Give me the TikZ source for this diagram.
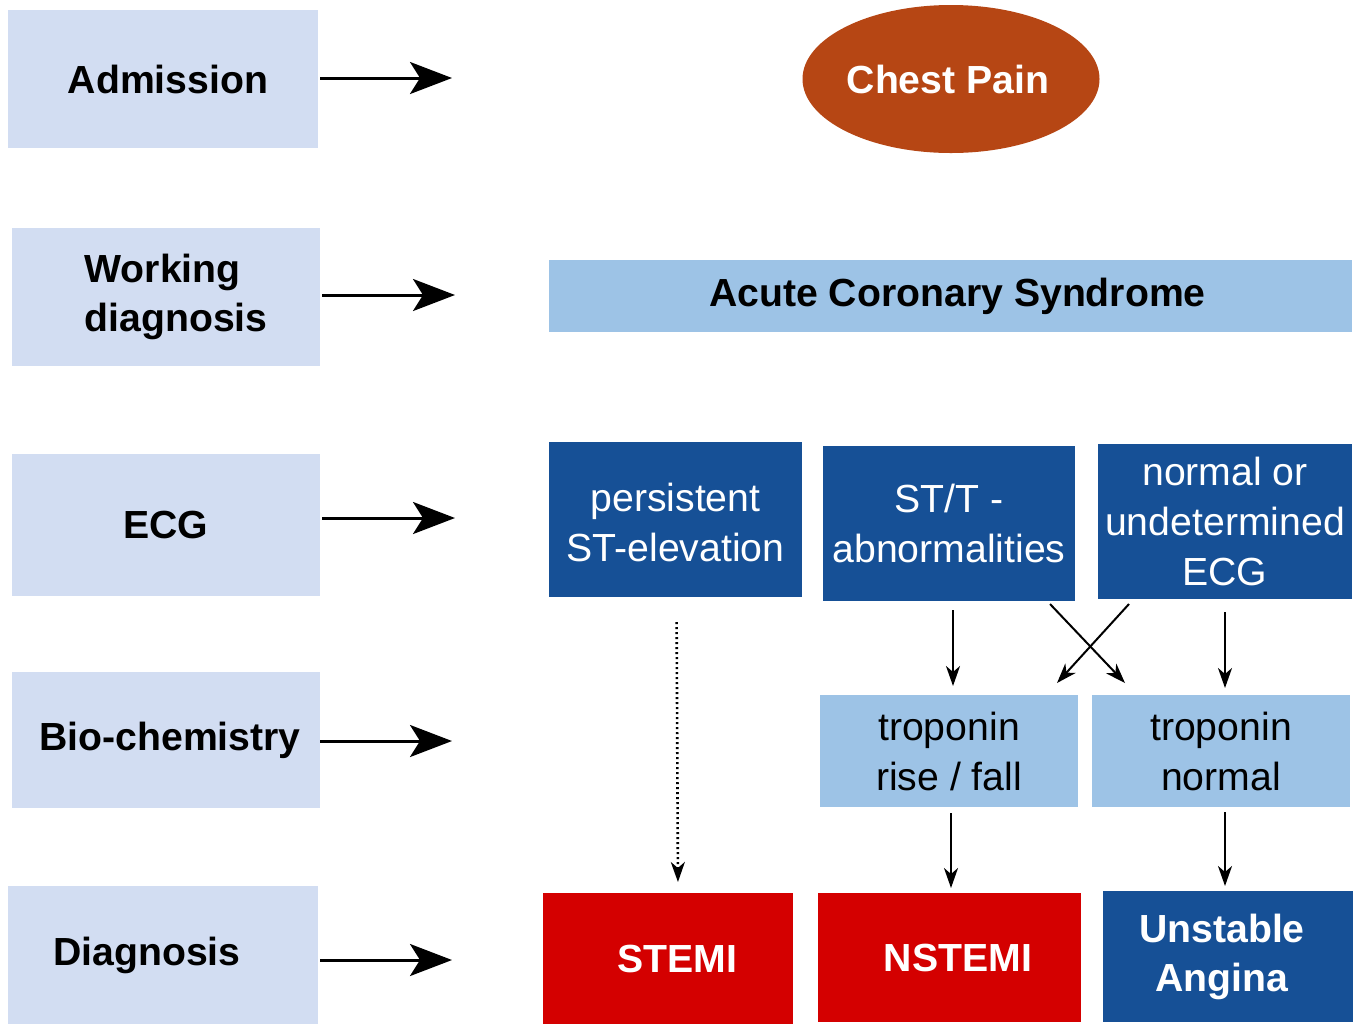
\documentclass[tikz,border=0pt]{standalone}
\usepackage{fontspec}
\setmainfont{Liberation Sans}
\usetikzlibrary{arrows.meta,shapes.geometric}
\definecolor{lav}{RGB}{210,221,242}
\definecolor{lblue}{RGB}{157,195,230}
\definecolor{dblue}{RGB}{22,80,150}
\definecolor{dred}{RGB}{212,0,0}
\definecolor{brn}{RGB}{182,70,20}
\begin{document}
\begin{tikzpicture}[x=0.5pt,y=-0.5pt,
  every node/.style={inner sep=0pt,outer sep=0pt,align=center,font=\fontsize{19.6pt}{25pt}\selectfont},
  stagebox/.style={fill=lav,font=\fontsize{19.6pt}{24.5pt}\selectfont\bfseries,text=black},
  lightbox/.style={fill=lblue,text=black},
  darkbox/.style={fill=dblue,text=white},
  redbox/.style={fill=dred,text=white,font=\fontsize{19.6pt}{24.5pt}\selectfont\bfseries},
  bigarrow/.style={line width=1.5pt,-{Stealth[length=21pt,width=16pt,inset=5pt]}},
  smallarrow/.style={line width=1pt,-{Stealth[length=10pt,width=7pt,inset=3pt]}},
]
\useasboundingbox (0,0) rectangle (1354,1024);
\fill[white] (0,0) rectangle (1354,1024);

% left column
\node[stagebox,minimum width=155pt,minimum height=69pt] (adm) at (163,79) {\hspace*{5pt}Admission};
\node[stagebox,minimum width=154pt,minimum height=69pt,align=left] (work) at (166,297) {\hspace*{10pt}Working\\ \hspace*{10pt}diagnosis};
\node[stagebox,minimum width=154pt,minimum height=71pt] (ecg) at (166,525) {ECG};
\node[stagebox,minimum width=154pt,minimum height=68pt] (bio) at (166,740) {\hspace*{4pt}Bio-chemistry};
\node[stagebox,minimum width=155pt,minimum height=69pt] (diag) at (163,955) {Diagnosis\hspace*{16pt}};

\coordinate (admE) at (452,78);
\coordinate (workE) at (455,295);
\coordinate (ecgE) at (455,518);
\coordinate (bioE) at (452,741);
\coordinate (diagE) at (452,960);
\draw[bigarrow] (adm.east |- admE) ++(2,0) -- (admE);
\draw[bigarrow] (work.east |- workE) ++(2,0) -- (workE);
\draw[bigarrow] (ecg.east |- ecgE) ++(2,0) -- (ecgE);
\draw[bigarrow] (bio.east |- bioE) -- (bioE);
\draw[bigarrow] (diag.east |- diagE) ++(2,0) -- (diagE);

% chest pain
\node[ellipse,fill=brn,text=white,minimum width=148.5pt,minimum height=74pt,font=\fontsize{19.6pt}{24pt}\selectfont\bfseries] (cp) at (951,79) {Chest Pain\hspace*{3pt}};

% ACS
\node[lightbox,minimum width=401.5pt,minimum height=36pt,font=\fontsize{19.6pt}{24pt}\selectfont\bfseries] (acs) at (950.5,296) {\hspace*{7pt}Acute Coronary Syndrome};

% ECG row
\node[darkbox,minimum width=126.5pt,minimum height=77.5pt] (pst) at (675.5,519.5) {\rule{0pt}{17pt}persistent\\ST-elevation};
\node[darkbox,minimum width=126pt,minimum height=77.5pt] (stt) at (949,523.5) {ST/T -\\abnormalities};
\node[darkbox,minimum width=127pt,minimum height=77.5pt] (norm) at (1225,521.5) {normal or\\undetermined\\ECG};

% biochemistry row
\node[lightbox,minimum width=129pt,minimum height=56pt] (trf) at (949,751) {troponin\\rise / fall};
\node[lightbox,minimum width=129pt,minimum height=56pt] (trn) at (1221,751) {troponin\\normal};

% diagnosis row
\node[redbox,minimum width=125pt,minimum height=65.5pt] (stemi) at (668,958.5) {\hspace*{9pt}STEMI};
\node[redbox,minimum width=131.5pt,minimum height=64.5pt] (nstemi) at (949.5,957.5) {\hspace*{8.5pt}NSTEMI};
\node[darkbox,minimum width=125pt,minimum height=65.5pt,font=\fontsize{19.6pt}{24.5pt}\selectfont\bfseries] (ua) at (1228,956.5) {Unstable\hspace*{6pt}\\Angina\hspace*{6pt}};

% connectors
\draw[smallarrow,shorten <=4.5pt,shorten >=4.5pt] ([xshift=2pt]stt.south) -- ([xshift=2pt]trf.north);
\draw[smallarrow] ([xshift=-12.5pt,yshift=-1.5pt]stt.south east) -- ([xshift=16.5pt,yshift=6pt]trn.north west);
\draw[smallarrow] ([xshift=15.5pt,yshift=-2.5pt]norm.south west) -- ([xshift=-10.5pt,yshift=6pt]trf.north east);
\draw[smallarrow,shorten <=6.5pt,shorten >=3.5pt] (norm.south) -- ([xshift=2pt]trn.north);
\draw[smallarrow,line width=1.3pt,dash pattern=on 1.1pt off 1.4pt,shorten <=12.5pt,shorten >=5.5pt] ([xshift=0.5pt]pst.south) -- ([xshift=5pt]stemi.north);
\draw[smallarrow,shorten <=3pt,shorten >=2.5pt] ([xshift=1pt]trf.south) -- ([xshift=0.75pt]nstemi.north);
\draw[smallarrow,shorten <=2.5pt,shorten >=2.5pt] ([xshift=2pt]trn.south) -- ([xshift=-1.5pt]ua.north);
\end{tikzpicture}
\end{document}
